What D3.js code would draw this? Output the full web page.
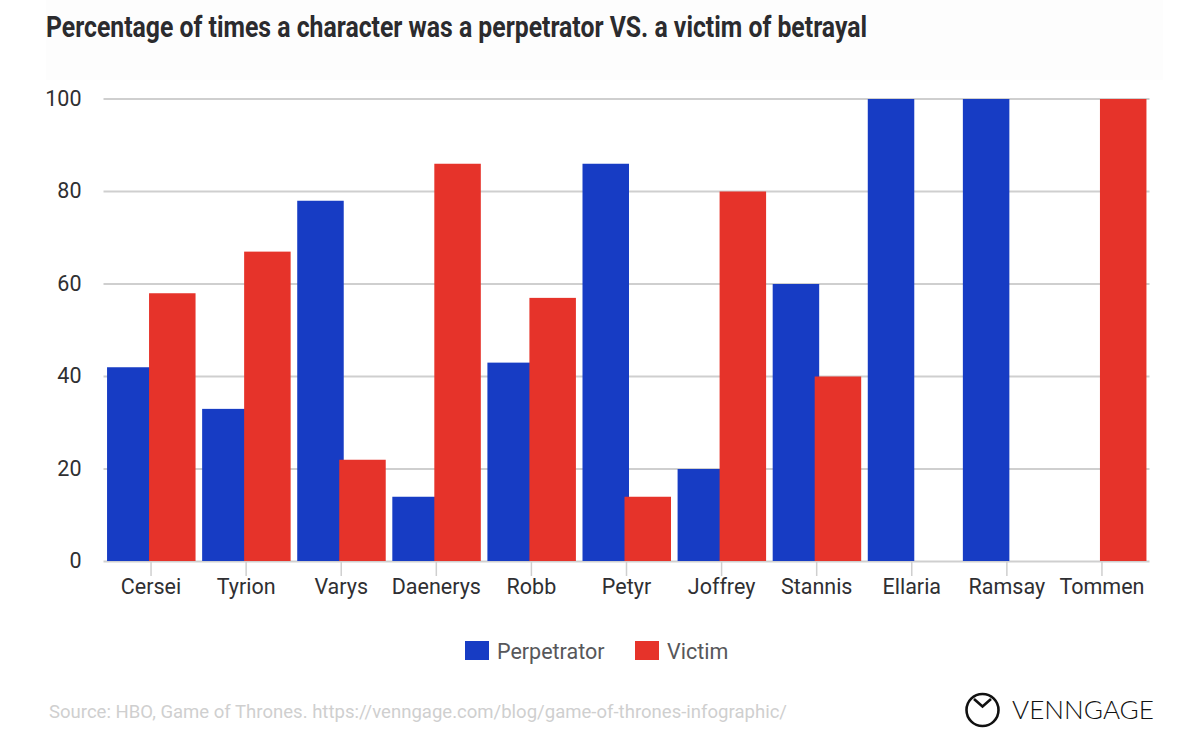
<!DOCTYPE html>
<html>
<head>
<meta charset="utf-8">
<script src="https://cdn.jsdelivr.net/npm/d3@7"></script>
<style>
  html, body { margin: 0; padding: 0; background: #fff; }
  svg { display: block; }
  text { font-family: Roboto, sans-serif; }
  .domain { display: none; }
</style>
</head>
<body>
<div id="chart"></div>
<script>
const data = [
    {name: "Cersei", Perpetrator: 42, Victim: 58},
    {name: "Tyrion", Perpetrator: 33, Victim: 67},
    {name: "Varys", Perpetrator: 78, Victim: 22},
    {name: "Daenerys", Perpetrator: 14, Victim: 86},
    {name: "Robb", Perpetrator: 43, Victim: 57},
    {name: "Petyr", Perpetrator: 86, Victim: 14},
    {name: "Joffrey", Perpetrator: 20, Victim: 80},
    {name: "Stannis", Perpetrator: 60, Victim: 40},
    {name: "Ellaria", Perpetrator: 100, Victim: 0},
    {name: "Ramsay", Perpetrator: 100, Victim: 0},
    {name: "Tommen", Perpetrator: 0, Victim: 100}
];
const keys = ["Perpetrator", "Victim"];
const color = d3.scaleOrdinal().domain(keys).range(["#173cc4", "#e6332a"]);

const margin = {top: 98.5, right: 50.5, bottom: 177, left: 103.5},
    width = 1200 - margin.left - margin.right,
    height = 738 - margin.top - margin.bottom;

const root = d3.select("#chart").append("svg")
    .attr("width", 1200)
    .attr("height", 738);

// faint band behind the title
root.append("rect")
    .attr("x", 46).attr("y", 0)
    .attr("width", 1117).attr("height", 80)
    .attr("fill", "#fdfdfd");

root.append("text")
    .attr("x", 46)
    .attr("y", 37)
    .attr("textLength", 821)
    .attr("lengthAdjust", "spacingAndGlyphs")
    .attr("font-size", 29)
    .attr("font-weight", 700)
    .attr("fill", "#2b2b2e")
    .text("Percentage of times a character was a perpetrator VS. a victim of betrayal");

const svg = root.append("g")
    .attr("transform", `translate(${margin.left},${margin.top})`);

const x0 = d3.scaleBand().domain(data.map(d => d.name)).range([0, width]);
// the two bars of a group overlap a little, the red one sits on top
const x1 = d3.scaleBand().domain(keys).range([x0.bandwidth() / 2 - 44, x0.bandwidth() / 2 + 40]);
const barWidth = 46.5;
const y = d3.scaleLinear().domain([0, 100]).range([height, 0]);

const yAxis = svg.append("g")
    .call(d3.axisLeft(y).tickValues([0, 20, 40, 60, 80, 100]).tickSize(-width).tickPadding(22));
yAxis.selectAll(".tick line").attr("stroke", "#cfcfcf").attr("stroke-width", 2);
yAxis.selectAll(".tick text")
    .attr("font-size", 21.5)
    .attr("font-family", "Roboto, sans-serif")
    .attr("fill", "#2f2f32");

const groups = svg.selectAll(".group")
    .data(data)
    .enter().append("g")
    .attr("class", "group")
    .attr("transform", d => `translate(${x0(d.name)},0)`);

groups.selectAll("rect")
    .data(d => keys.map(k => ({key: k, value: d[k]})))
    .enter().append("rect")
    .attr("x", d => x1(d.key))
    .attr("y", d => y(d.value) + 0.5)
    .attr("width", barWidth)
    .attr("height", d => Math.max(0, height - y(d.value) - 0.5))
    .attr("fill", d => color(d.key));

const xAxis = svg.append("g")
    .attr("transform", `translate(0,${height})`)
    .call(d3.axisBottom(x0).tickSize(15).tickPadding(3));
xAxis.selectAll(".tick line").attr("stroke", "#cfcfcf").attr("stroke-width", 1.5);
xAxis.selectAll(".tick text")
    .attr("font-size", 21.5)
    .attr("font-family", "Roboto, sans-serif")
    .attr("fill", "#2f2f32");

// legend
const legend = root.append("g");
const legendItems = [{key: "Perpetrator", x: 465}, {key: "Victim", x: 635}];
legendItems.forEach(d => {
    legend.append("rect")
        .attr("x", d.x).attr("y", 641)
        .attr("width", 24).attr("height", 19)
        .attr("fill", color(d.key));
    legend.append("text")
        .attr("x", d.x + 32).attr("y", 659)
        .attr("font-size", 21.5)
        .attr("fill", "#57575a")
        .text(d.key);
});

root.append("text")
    .attr("x", 49)
    .attr("y", 718)
    .attr("textLength", 738)
    .attr("lengthAdjust", "spacingAndGlyphs")
    .attr("font-size", 19)
    .attr("fill", "#cfcfcf")
    .text("Source: HBO, Game of Thrones. https://venngage.com/blog/game-of-thrones-infographic/");

// Venngage logo
const logo = root.append("g")
    .attr("fill", "none")
    .attr("stroke", "#111")
    .attr("stroke-width", 2.6);
logo.append("circle").attr("cx", 982.5).attr("cy", 710).attr("r", 16);
logo.append("path").attr("d", "M974 699 L982.5 706.5 L991 699");

root.append("text")
    .attr("x", 1012)
    .attr("y", 719)
    .attr("textLength", 142)
    .attr("lengthAdjust", "spacingAndGlyphs")
    .attr("font-size", 26)
    .attr("font-weight", 300)
    .style("font-family", "Lato, sans-serif")
    .attr("fill", "#111")
    .text("VENNGAGE");
</script>
</body>
</html>
